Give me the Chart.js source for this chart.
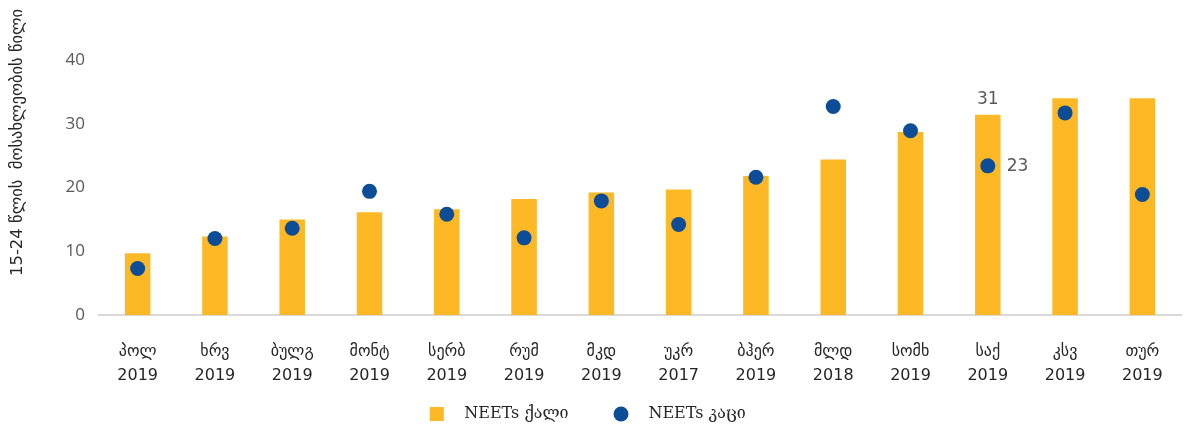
<!DOCTYPE html>
<html>
<head>
<meta charset="utf-8">
<script src="https://cdn.jsdelivr.net/npm/chart.js@4/dist/chart.umd.min.js"></script>
<style>
html,body{margin:0;padding:0;background:#fff;}
#wrap{width:1189px;height:432px;position:relative;}
</style>
</head>
<body>
<div id="wrap"><canvas id="c" width="1189" height="432"></canvas></div>
<script>
const countries = ['პოლ','ხრვ','ბულგ','მონტ','სერბ','რუმ','მკდ','უკრ','ბჰერ','მლდ','სომხ','საქ','კსვ','თურ'];
const years = ['2019','2019','2019','2019','2019','2019','2019','2017','2019','2018','2019','2019','2019','2019'];
const womenNEET = [9.7,12.3,15.0,16.1,16.6,18.2,19.2,19.7,21.8,24.4,28.7,31.4,34.0,34.0];
const menNEET = [7.3,12.0,13.6,19.4,15.8,12.1,17.9,14.2,21.6,32.7,28.9,23.4,31.7,18.9];
const yTicks = [0,10,20,30,40];
const labeledCategory = 'საქ';
const yTitle = '15-24 წლის  მოსახლეობის წილი';
const seriesNames = ['NEETs ქალი','NEETs კაცი'];

const ORANGE = '#FDB825';
const BLUE = '#0D4C97';
const FONT = "'DejaVu Sans', 'Noto Sans', sans-serif";

const labels = countries.map((c,i)=>[c, years[i]]);

// legend marker images: marker sits 7px right of the image centre
function markerImage(kind, color){
  const cv = document.createElement('canvas');
  cv.width = 30; cv.height = 16;
  const g = cv.getContext('2d');
  g.fillStyle = color;
  if (kind === 'rect') { g.fillRect(15,1,14,14); }
  else { g.beginPath(); g.arc(22,8,7.5,0,Math.PI*2); g.fill(); }
  return cv;
}
const legendMarkers = [markerImage('rect', ORANGE), markerImage('circle', BLUE)];

const annot = {
  id:'annot',
  afterLayout(chart){
    if (chart.legend) { chart.legend.left -= 16; chart.legend.right -= 16; }
  },
  afterDatasetsDraw(chart){
    const ctx = chart.ctx;
    const idx = countries.indexOf(labeledCategory);
    ctx.save();
    ctx.fillStyle = '#595959';
    ctx.font = "17px " + FONT;
    const bar = chart.getDatasetMeta(0).data[idx];
    ctx.textAlign = 'center';
    ctx.textBaseline = 'bottom';
    ctx.fillText(Math.round(womenNEET[idx]).toString(), bar.x, bar.y - 7);
    const pt = chart.getDatasetMeta(1).data[idx];
    ctx.textAlign = 'left';
    ctx.textBaseline = 'middle';
    ctx.fillText(Math.round(menNEET[idx]).toString(), pt.x + 19, pt.y + 1);
    ctx.restore();
  },
  afterDraw(chart){
    const ctx = chart.ctx;
    const a = chart.chartArea;
    ctx.save();
    ctx.translate(18, (a.top + a.bottom)/2 - 45);
    ctx.rotate(-Math.PI/2);
    ctx.fillStyle = '#262626';
    ctx.font = "16.5px " + FONT;
    ctx.textAlign = 'center';
    ctx.textBaseline = 'middle';
    ctx.fillText(yTitle, 0, 0);
    ctx.restore();
  }
};

new Chart(document.getElementById('c'), {
  type:'bar',
  data:{
    labels: labels,
    datasets:[
      {
        type:'bar',
        label: seriesNames[0],
        data: womenNEET,
        backgroundColor: ORANGE,
        barPercentage: 0.33,
        categoryPercentage: 1.0,
        order: 1
      },
      {
        type:'line',
        label: seriesNames[1],
        data: menNEET,
        showLine: false,
        backgroundColor: BLUE,
        borderColor: BLUE,
        pointRadius: 7.5,
        pointHoverRadius: 7.5,
        pointBorderWidth: 0,
        pointStyle: 'circle',
        order: 0
      }
    ]
  },
  options:{
    responsive:false,
    animation:false,
    devicePixelRatio:1,
    layout:{padding:{left:0,right:8,top:60,bottom:0}},
    plugins:{
      tooltip:{enabled:false},
      legend:{
        position:'bottom',
        labels:{
          usePointStyle:true,
          pointStyleWidth:53,
          boxHeight:14,
          padding:19,
          color:'#262626',
          font:{family:"'DejaVu Serif', 'DejaVu Sans', serif", size:16},
          generateLabels(chart){
            const items = Chart.defaults.plugins.legend.labels.generateLabels(chart);
            items.forEach(it => { it.pointStyle = legendMarkers[it.datasetIndex]; });
            return items;
          },
          sort:(a,b)=>a.datasetIndex-b.datasetIndex
        }
      }
    },
    scales:{
      x:{
        afterFit: s => { s.height = 72; },
        grid:{display:false, drawTicks:false},
        border:{display:true, color:'#D9D9D9', width:2},
        ticks:{color:'#262626', font:{family:FONT, size:16, lineHeight:1.5}, padding:25, maxRotation:0, autoSkip:false}
      },
      y:{
        min:0, max:40,
        afterBuildTicks: s => { s.ticks = yTicks.map(v=>({value:v})); },
        afterFit: s => { s.width = 99; },
        grid:{display:false, drawTicks:false},
        border:{display:false},
        ticks:{color:'#595959', font:{family:"'Open Sans', sans-serif", size:17}, padding:14}
      }
    }
  },
  plugins:[annot]
});
</script>
</body>
</html>
